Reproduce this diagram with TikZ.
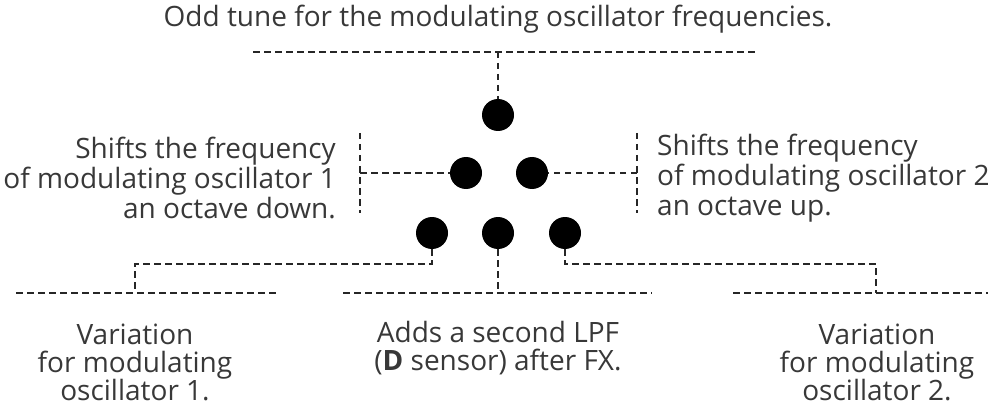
\documentclass[tikz,border=0pt]{standalone}
\usepackage{fontspec}
\setmainfont{Open Sans}
\begin{document}
\begin{tikzpicture}[x=1pt,y=-1pt,
  dot/.style={circle,fill=black,minimum size=32pt,inner sep=0pt},
  conn/.style={dash pattern=on 6.5pt off 4.5pt, line width=1.4pt, draw=black!85},
  lbl/.style={font=\fontsize{28}{30}\selectfont, text=black!78, inner sep=0pt},
  lblb/.style={font=\fontsize{28}{28}\selectfont, text=black!78, inner sep=0pt}]
\useasboundingbox (0,0) rectangle (988,409);
% dots
\node[dot] (d1) at (498,115) {};
\node[dot] (d2) at (466,173) {};
\node[dot] (d3) at (532,173) {};
\node[dot] (d4) at (432,233) {};
\node[dot] (d5) at (498,233) {};
\node[dot] (d6) at (565,233) {};
% texts
\node[lbl, anchor=base] (ttop) at (498,27) {Odd tune for the modulating oscillator frequencies.};
\node[lbl, anchor=east, align=right] (tleft) at (336,178) {Shifts the frequency\\of modulating oscillator 1\\an octave down.};
\node[lbl, anchor=west, align=left] (tright) at (657,178) {Shifts the frequency\\of modulating oscillator 2\\an octave up.};
\node[lblb, align=center] (bl) at (135,362) {Variation\\for modulating\\oscillator 1.};
\node[lblb, align=center] (bm) at (498,348) {Adds a second LPF\\(\textbf{D} sensor) after FX.};
\node[lblb, align=center] (br) at (877,362) {Variation\\for modulating\\oscillator 2.};
% coordinates
\coordinate (t1) at (253,52); \coordinate (t2) at (757,52); \coordinate (tm) at (498,52);
\coordinate (lv1) at (360,133); \coordinate (lv2) at (360,213); \coordinate (lm) at (360,173);
\coordinate (rv1) at (637,133); \coordinate (rv2) at (637,213); \coordinate (rm) at (637,173);
\coordinate (b1a) at (16,293); \coordinate (b1b) at (277,293); \coordinate (b1m) at (135,293);
\coordinate (b2a) at (343,293); \coordinate (b2b) at (652,293); \coordinate (b2m) at (498,293);
\coordinate (b3a) at (733,293); \coordinate (b3b) at (988,293); \coordinate (b3m) at (876,293);
% connectors
\draw[conn] (t1) -- (t2);
\draw[conn] (tm) -- (d1.north);
\draw[conn] (lv1) -- (lv2);
\draw[conn] (lm) -- (d2.west);
\draw[conn] (rv1) -- (rv2);
\draw[conn] (rm) -- (d3.east);
\draw[conn] (b1a) -- (b1b);
\draw[conn] (b2a) -- (b2b);
\draw[conn] (b3a) -- (b3b);
\draw[conn] (d4.south) |- (135,264) -- (b1m);
\draw[conn] (d5.south) -- (b2m);
\draw[conn] (d6.south) |- (876,264) -- (b3m);
\end{tikzpicture}
\end{document}
